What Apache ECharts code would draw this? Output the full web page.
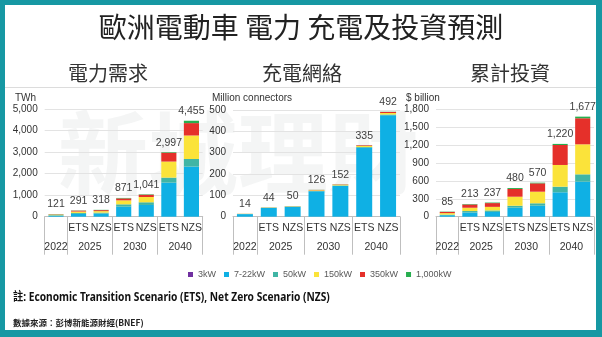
<!DOCTYPE html>
<html><head><meta charset="utf-8">
<script src="https://cdn.jsdelivr.net/npm/echarts@6/dist/echarts.min.js"></script>
<style>html,body{margin:0;padding:0;background:#fff;}#c{width:602px;height:337px;}</style>
</head><body><div id="c"></div>
<script>
// ---- data ----
const categories = ['', 'ETS', 'NZS', 'ETS', 'NZS', 'ETS', 'NZS'];
const yearLabels = ['2022', '2025', '2030', '2040'];
const seriesNames = ['3kW', '7-22kW', '50kW', '150kW', '350kW', '1,000kW'];

// Electricity demand (TWh)
const power_3kW   = [0, 0, 0, 0, 0, 0, 0];
const power_7_22  = [40, 130, 140, 465, 545, 1580, 2325];
const power_50    = [30, 45, 50, 110, 125, 235, 355];
const power_150   = [25, 65, 70, 185, 245, 745, 1090];
const power_350   = [15, 40, 45, 90, 105, 410, 575];
const power_1000  = [11, 11, 13, 21, 21, 27, 110];
const power_total = [121, 291, 318, 871, 1041, 2997, 4455];

// Charging network (million connectors)
const conn_3kW   = [0, 0, 0, 0, 0, 0, 0];
const conn_7_22  = [12, 41, 46.5, 119, 144, 323, 475];
const conn_50    = [0.8, 1, 1.2, 2, 2.5, 3.5, 4];
const conn_150   = [0.7, 1.2, 1.5, 3, 3.5, 5, 7];
const conn_350   = [0.3, 0.5, 0.5, 1.5, 1.5, 3, 5];
const conn_1000  = [0.2, 0.3, 0.3, 0.5, 0.5, 0.5, 1];
const conn_total = [14, 44, 50, 126, 152, 335, 492];

// Cumulative investment ($ billion)
const inv_3kW   = [0, 0, 0, 0, 0, 0, 0];
const inv_7_22  = [25, 70, 80, 151, 184, 409, 587];
const inv_50    = [10, 25, 25, 33, 41, 94, 123];
const inv_150   = [25, 55, 60, 151, 194, 364, 503];
const inv_350   = [20, 55, 63, 129, 140, 335, 437];
const inv_1000  = [5, 8, 9, 16, 11, 18, 27];
const inv_total = [85, 213, 237, 480, 570, 1220, 1677];

const yTicks = [
  {max: 5000, interval: 1000},
  {max: 500, interval: 100},
  {max: 1800, interval: 300}
];
const unitNames = ['TWh', 'Million connectors', '$ billion'];
const subTitles = ['電力需求', '充電網絡', '累計投資'];

// ---- styling ----
const colors = ['#7030a0', '#0fb0e4', '#40b5a5', '#fbe33a', '#e5302a', '#27ae4f'];
const grids = [
  {left: 44.7, top: 109, width: 158, height: 107.7},
  {left: 233, top: 110, width: 167, height: 106.7},
  {left: 436, top: 109.3, width: 158, height: 107.4}
];
const fmt = v => Number(v).toLocaleString('en-US');
const chartData = [
  {segs: [power_3kW, power_7_22, power_50, power_150, power_350, power_1000], total: power_total},
  {segs: [conn_3kW, conn_7_22, conn_50, conn_150, conn_350, conn_1000], total: conn_total},
  {segs: [inv_3kW, inv_7_22, inv_50, inv_150, inv_350, inv_1000], total: inv_total}
];
const baseFont = 'Arial, "Liberation Sans", sans-serif';
const xAxes = [], yAxes = [], series = [];
grids.forEach((g, i) => {
  xAxes.push({
    type: 'category', gridIndex: i, data: categories,
    axisLine: {lineStyle: {color: '#bfbfbf'}},
    axisTick: {interval: 0, length: 17, lineStyle: {color: '#bfbfbf'}},
    axisLabel: {interval: 0, margin: 6, fontSize: 10.5, color: '#333', fontFamily: baseFont}
  });
  xAxes.push({
    type: 'value', gridIndex: i, min: 0, max: 7, position: 'bottom',
    axisLine: {show: false}, splitLine: {show: false},
    axisTick: {show: true, customValues: [0, 1, 3, 5, 7], length: 38, lineStyle: {color: '#bfbfbf'}},
    axisLabel: {show: true, customValues: [0.5, 2, 4, 6], margin: 25, fontSize: 10.5, color: '#333', fontFamily: baseFont,
      formatter: v => ({0.5: yearLabels[0], 2: yearLabels[1], 4: yearLabels[2], 6: yearLabels[3]})[v] || ''}
  });
  yAxes.push({
    type: 'value', gridIndex: i, min: 0, max: yTicks[i].max, interval: yTicks[i].interval,
    axisLine: {show: false}, axisTick: {show: false},
    splitLine: {lineStyle: {color: '#e3e3e3', width: 1}},
    axisLabel: {margin: 7, fontSize: 10, color: '#333', fontFamily: baseFont, formatter: v => fmt(v)}
  });
  const d = chartData[i];
  seriesNames.forEach((n, k) => {
    const s = {
      name: n, type: 'bar', stack: 'st' + i, xAxisIndex: 2 * i, yAxisIndex: i,
      data: d.segs[k], barCategoryGap: '33%', itemStyle: {color: colors[k]}, z: 3
    };
    if (k === seriesNames.length - 1) {
      s.label = {show: true, position: 'top', distance: 4, fontSize: 10.5, color: '#404040', fontFamily: baseFont,
        formatter: p => fmt(d.total[p.dataIndex])};
    }
    series.push(s);
  });
});

const teal = '#1698a3';
const graphic = [
  {type: 'text', z: 0, left: 58, top: 108, style: {text: '新城理財', font: 'bold 90px "Noto Sans CJK TC", sans-serif', fill: 'rgba(200,205,205,0.2)'}},
  {type: 'rect', shape: {x: 0, y: 0, width: 602, height: 5}, style: {fill: teal}, z: 10},
  {type: 'rect', shape: {x: 0, y: 0, width: 5, height: 337}, style: {fill: teal}, z: 10},
  {type: 'rect', shape: {x: 596, y: 0, width: 6, height: 337}, style: {fill: teal}, z: 10},
  {type: 'rect', shape: {x: 0, y: 330, width: 602, height: 7}, style: {fill: teal}, z: 10},
  {type: 'rect', shape: {x: 5, y: 87, width: 591, height: 1}, style: {fill: '#dcdcdc'}, z: 10},
  {type: 'text', left: 'center', top: 13, style: {text: '歐洲電動車 電力 充電及投資預測', font: '28px "Noto Sans CJK TC", sans-serif', fill: '#222'}},
  {type: 'text', x: 108, y: 73, style: {text: subTitles[0], font: '20px "Noto Sans CJK TC", sans-serif', fill: '#333', textAlign: 'center', textVerticalAlign: 'middle'}},
  {type: 'text', x: 302, y: 73, style: {text: subTitles[1], font: '20px "Noto Sans CJK TC", sans-serif', fill: '#333', textAlign: 'center', textVerticalAlign: 'middle'}},
  {type: 'text', x: 510, y: 73, style: {text: subTitles[2], font: '20px "Noto Sans CJK TC", sans-serif', fill: '#333', textAlign: 'center', textVerticalAlign: 'middle'}},
  {type: 'text', x: 15, y: 98, style: {text: unitNames[0], font: '10px Arial, "Liberation Sans", sans-serif', fill: '#333', textVerticalAlign: 'middle'}},
  {type: 'text', x: 212, y: 98, style: {text: unitNames[1], font: '10px Arial, "Liberation Sans", sans-serif', fill: '#333', textVerticalAlign: 'middle'}},
  {type: 'text', x: 406, y: 98, style: {text: unitNames[2], font: '10px Arial, "Liberation Sans", sans-serif', fill: '#333', textVerticalAlign: 'middle'}},
  {type: 'text', x: 13, y: 298, scaleX: 0.85, style: {text: '註: Economic Transition Scenario (ETS), Net Zero Scenario (NZS)', font: 'bold 12px "Noto Sans", "Noto Sans CJK TC", sans-serif', fill: '#111', textVerticalAlign: 'middle'}},
  {type: 'text', x: 13, y: 323, style: {text: '數據來源：彭博新能源財經(BNEF)', font: 'bold 8.5px "Noto Sans CJK TC", serif', fill: '#222', textVerticalAlign: 'middle'}}
];

const chart = echarts.init(document.getElementById('c'), null, {renderer: 'canvas'});
chart.setOption({
  animation: false,
  backgroundColor: '#fff',
  textStyle: {fontFamily: baseFont},
  grid: grids,
  xAxis: xAxes,
  yAxis: yAxes,
  legend: {
    data: seriesNames, left: 183, top: 265, icon: 'rect', itemWidth: 5, itemHeight: 5, itemGap: 8,
    textStyle: {fontSize: 9, color: '#595959', fontFamily: baseFont}, selectedMode: false
  },
  graphic: graphic,
  series: series
});
</script></body></html>
